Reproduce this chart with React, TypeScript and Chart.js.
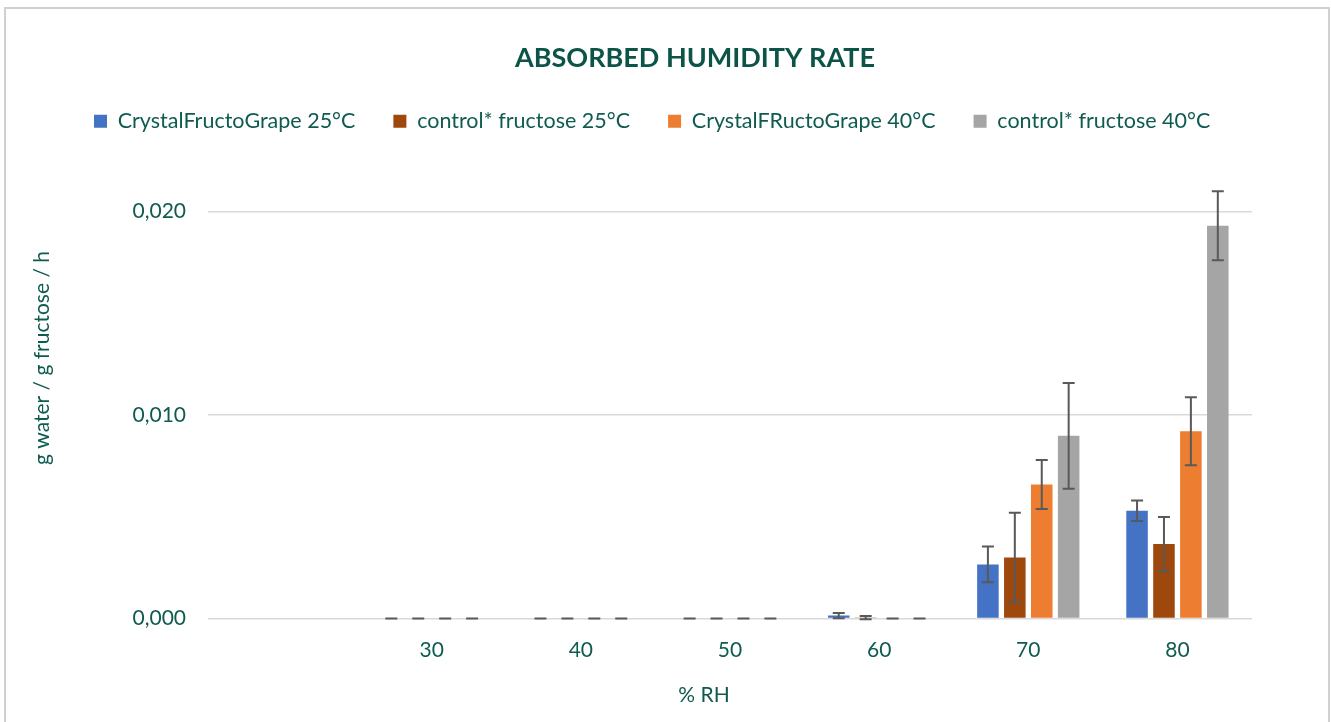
import React, { useEffect, useRef } from "react";
import { Chart, registerables } from "chart.js";

Chart.register(...registerables);

const TITLE = "ABSORBED HUMIDITY RATE";
const X_TITLE = "% RH";
const Y_TITLE = "g water / g fructose / h";

const categories = ["", "30", "40", "50", "60", "70", "80"];
const seriesNames = [
  "CrystalFructoGrape 25°C",
  "control* fructose 25°C",
  "CrystalFRuctoGrape 40°C",
  "control* fructose 40°C",
];
const cfg25 = [null, 0, 0, 0, 0.00015, 0.00266, 0.0053];
const ctrl25 = [null, 0, 0, 0, 0.00005, 0.003, 0.00366];
const cfg40 = [null, 0, 0, 0, 0, 0.00659, 0.0092];
const ctrl40 = [null, 0, 0, 0, 0, 0.00898, 0.0193];
const cfg25Err = [null, 0, 0, 0, 0.00013, 0.00088, 0.0005];
const ctrl25Err = [null, 0, 0, 0, 0.00008, 0.0022, 0.00133];
const cfg40Err = [null, 0, 0, 0, 0, 0.0012, 0.00167];
const ctrl40Err = [null, 0, 0, 0, 0, 0.0026, 0.0017];
const yTicks = [0, 0.01, 0.02];

const colors = ["#4472C4", "#9E480E", "#ED7D31", "#A5A5A5"];
const TEXT_COLOR = "#0f5b50";
const TITLE_COLOR = "#0b5447";
const FONT = "Lato";

const errorBarPlugin = {
  id: "errorBars",
  afterDatasetsDraw(chart: any) {
    const { ctx } = chart;
    const yScale = chart.scales.y;
    ctx.save();
    ctx.strokeStyle = "#595959";
    ctx.lineWidth = 2;
    chart.data.datasets.forEach((ds: any, i: number) => {
      const meta = chart.getDatasetMeta(i);
      ds.data.forEach((v: number | null, j: number) => {
        const e = ds.errors[j];
        if (v === null || e === null) return;
        const el = meta.data[j];
        const x = el.x;
        const yt = yScale.getPixelForValue(v + e);
        const yb = yScale.getPixelForValue(v - e);
        const cap = 6;
        ctx.beginPath();
        ctx.moveTo(x, yt);
        ctx.lineTo(x, yb);
        ctx.moveTo(x - cap, yt);
        ctx.lineTo(x + cap, yt);
        ctx.moveTo(x - cap, yb);
        ctx.lineTo(x + cap, yb);
        ctx.stroke();
      });
    });
    ctx.restore();
  },
};

const textPlugin = {
  id: "texts",
  afterDraw(chart: any) {
    const { ctx } = chart;
    ctx.save();
    ctx.textAlign = "center";
    ctx.textBaseline = "middle";
    ctx.fillStyle = TITLE_COLOR;
    ctx.font = `bold 27px ${FONT}`;
    ctx.fillText(TITLE, 689, 49);
    ctx.fillStyle = TEXT_COLOR;
    ctx.font = `21px ${FONT}`;
    ctx.fillText(X_TITLE, 698, 686);
    ctx.translate(36, 349);
    ctx.rotate(-Math.PI / 2);
    ctx.fillText(Y_TITLE, 0, 0);
    ctx.restore();
  },
};

export default function App() {
  const ref = useRef<HTMLCanvasElement | null>(null);
  useEffect(() => {
    if (!ref.current) return;
    const values = [cfg25, ctrl25, cfg40, ctrl40];
    const errs = [cfg25Err, ctrl25Err, cfg40Err, ctrl40Err];
    const chart = new Chart(ref.current, {
      type: "bar",
      data: {
        labels: categories,
        datasets: values.map((d, i) => ({
          label: seriesNames[i],
          data: d,
          errors: errs[i],
          backgroundColor: colors[i],
          borderWidth: 0,
          categoryPercentage: 0.722,
          barPercentage: 0.8,
        })) as any,
      },
      options: {
        animation: false,
        responsive: false,
        devicePixelRatio: 1,
        layout: { padding: { left: 50, right: 76, top: 63.5, bottom: 52.4 } },
        plugins: {
          title: { display: false },
          subtitle: {
            display: true,
            text: "",
            weight: 500,
            font: { size: 10, lineHeight: 1 },
            padding: { top: 0, bottom: 59.5 },
          } as any,
          legend: {
            position: "top",
            align: "start",
            labels: {
              boxWidth: 13,
              boxHeight: 13,
              padding: 38,
              color: TEXT_COLOR,
              font: { family: FONT, size: 21.5 },
            },
          },
          tooltip: { enabled: false },
        },
        scales: {
          x: {
            grid: { display: false, drawTicks: false },
            border: { display: false },
            ticks: {
              color: TEXT_COLOR,
              font: { family: FONT, size: 21 },
              padding: 19.4,
              maxRotation: 0,
            },
          },
          y: {
            min: 0,
            max: 0.02,
            afterFit: (s: any) => {
              s.width = 152;
            },
            afterBuildTicks: (s: any) => {
              s.ticks = yTicks.map((v) => ({ value: v }));
            },
            grid: { color: "#d9d9d9", lineWidth: 1.5, drawTicks: false },
            border: { display: false },
            ticks: {
              color: TEXT_COLOR,
              font: { family: FONT, size: 21 },
              padding: 22,
              callback: (v: any) => Number(v).toFixed(3).replace(".", ","),
            },
          },
        },
      },
      plugins: [errorBarPlugin, textPlugin],
    });
    return () => chart.destroy();
  }, []);

  return (
    <div
      style={{
        position: "fixed",
        left: 4,
        top: 7,
        width: 1326,
        height: 730,
        border: "2px solid #d0d0d0",
        boxSizing: "border-box",
        background: "#fff",
      }}
    >
      <canvas ref={ref} width={1322} height={726} style={{ display: "block" }} />
    </div>
  );
}
